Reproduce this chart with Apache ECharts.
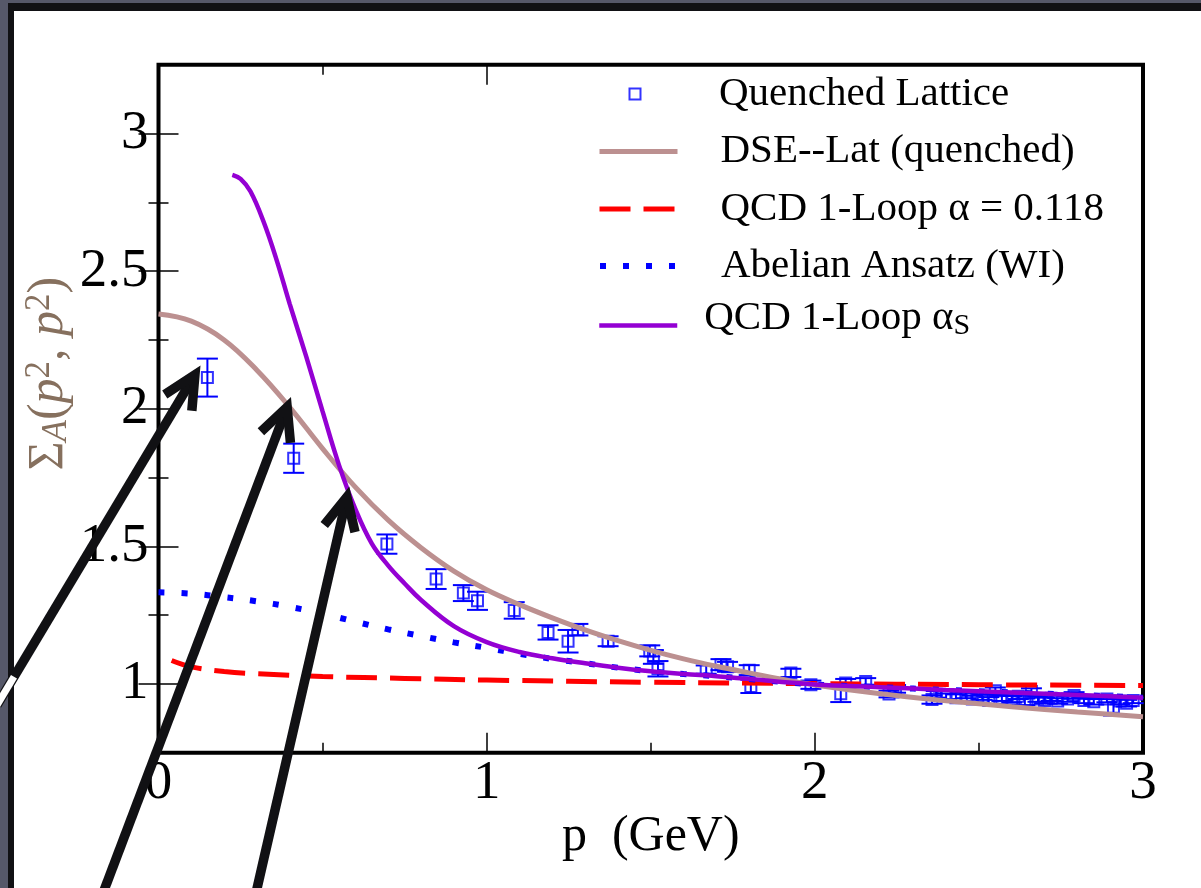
<!DOCTYPE html>
<html>
<head>
<meta charset="utf-8">
<script src="https://cdn.jsdelivr.net/npm/echarts@6/dist/echarts.min.js"></script>
<style>
  html, body { margin: 0; padding: 0; width: 1201px; height: 888px; overflow: hidden; background: #565869; }
  #band  { position: absolute; left: 8px; top: 3px; right: 0; bottom: 0; background: #111114; }
  #panel { position: absolute; left: 14px; top: 11px; right: 0; bottom: 0; background: #ffffff; }
  #chart { position: absolute; left: 0; top: 0; width: 1201px; height: 888px; }
</style>
</head>
<body>
<div id="band"></div>
<div id="panel"></div>
<div id="chart"></div>
<script>
// ---- axis ticks ----
const xTicks = [0, 1, 2, 3];
const xMinorTicks = [0.5, 1.5, 2.5];
const yTicks = [1, 1.5, 2, 2.5, 3];
const yMinorTicks = [1.25, 1.75, 2.25, 2.75];
const topTicks = [1];
const topMinorTicks = [0.5];

// ---- quenched lattice points: p (GeV), Sigma_A, error ----
const latticeP = [0.149, 0.412, 0.696, 0.846, 0.929, 0.972, 1.084, 1.187, 1.248, 1.278,
  1.370, 1.497, 1.508, 1.522, 1.669, 1.714, 1.734, 1.800, 1.805, 1.927,
  1.988, 2.079, 2.094, 2.155, 2.226, 2.246, 2.357, 2.370, 2.400, 2.430,
  2.460, 2.480, 2.510, 2.530, 2.550, 2.570, 2.600, 2.620, 2.640, 2.660,
  2.680, 2.700, 2.720, 2.740, 2.770, 2.790, 2.820, 2.850, 2.890, 2.910,
  2.930, 2.950, 2.970];
const latticeS = [2.113, 1.820, 1.508, 1.381, 1.330, 1.302, 1.267, 1.187, 1.155, 1.197,
  1.155, 1.120, 1.098, 1.055, 1.052, 1.070, 1.062, 1.050, 0.991, 1.040,
  0.997, 0.964, 1.003, 1.009, 0.963, 0.982, 0.943, 0.962, 0.955, 0.950,
  0.958, 0.945, 0.952, 0.940, 0.975, 0.948, 0.944, 0.955, 0.935, 0.972,
  0.945, 0.940, 0.948, 0.938, 0.945, 0.958, 0.940, 0.935, 0.945, 0.915,
  0.938, 0.930, 0.940];
const latticeErr = [0.069, 0.053, 0.035, 0.036, 0.029, 0.033, 0.030, 0.026, 0.041, 0.021,
  0.018, 0.020, 0.025, 0.028, 0.015, 0.020, 0.018, 0.018, 0.024, 0.015,
  0.015, 0.030, 0.015, 0.012, 0.012, 0.014, 0.015, 0.012, 0.010, 0.012,
  0.010, 0.012, 0.010, 0.012, 0.012, 0.010, 0.012, 0.010, 0.012, 0.012,
  0.010, 0.010, 0.010, 0.010, 0.010, 0.012, 0.010, 0.010, 0.012, 0.030,
  0.012, 0.012, 0.010];

// ---- DSE--Lat (quenched) ----
const dseP = [0, 0.1, 0.2, 0.3, 0.4, 0.5, 0.6, 0.7, 0.8, 0.9, 1.0, 1.1, 1.2, 1.3, 1.4,
  1.5, 1.6, 1.7, 1.8, 1.9, 2.0, 2.2, 2.4, 2.6, 2.8, 3.0];
const dseS = [2.344, 2.318, 2.25, 2.14, 2.005, 1.855, 1.715, 1.595, 1.495, 1.41, 1.342, 1.288, 1.24, 1.196, 1.157,
  1.122, 1.091, 1.064, 1.04, 1.017, 0.996, 0.964, 0.939, 0.917, 0.898, 0.881];

// ---- QCD 1-loop, fixed alpha = 0.118 ----
const qcdFixedP = [0.04, 0.1, 0.2, 0.3, 0.5, 0.75, 1.0, 1.5, 2.0, 2.5, 3.0];
const qcdFixedS = [1.085, 1.062, 1.045, 1.037, 1.027, 1.020, 1.014, 1.006, 1.001, 0.997, 0.994];

// ---- Abelian Ansatz (WI) ----
const abelianP = [0, 0.1, 0.2, 0.3, 0.4, 0.5, 0.6, 0.7, 0.8, 0.9, 1.0, 1.1, 1.2, 1.3, 1.4,
  1.5, 1.6, 1.7, 1.8, 1.9, 2.0, 2.2, 2.4, 2.6, 2.8, 3.0];
const abelianS = [1.333, 1.328, 1.315, 1.300, 1.280, 1.255, 1.226, 1.198, 1.174, 1.151, 1.131, 1.109, 1.091, 1.075, 1.059,
  1.046, 1.036, 1.028, 1.018, 1.007, 0.998, 0.988, 0.978, 0.969, 0.960, 0.950];

// ---- QCD 1-loop, running alpha_S ----
const qcdRunP = [0.225, 0.25, 0.28, 0.32, 0.36, 0.40, 0.45, 0.50, 0.55, 0.60, 0.65, 0.70, 0.75, 0.8, 0.9,
  1.0, 1.1, 1.2, 1.3, 1.4, 1.5, 1.6, 1.7, 1.8, 1.9, 2.0, 2.2, 2.4, 2.6, 2.8, 3.0];
const qcdRunS = [2.85, 2.835, 2.79, 2.68, 2.54, 2.38, 2.19, 1.99, 1.795, 1.635, 1.51, 1.43, 1.365, 1.305, 1.21,
  1.152, 1.116, 1.093, 1.075, 1.059, 1.046, 1.036, 1.028, 1.018, 1.007, 0.998, 0.988, 0.978, 0.969, 0.960, 0.950];

// ---- annotation arrows (tip and tail, in axis units) ----
const arrowTipP  = [0.111, 0.392, 0.574];
const arrowTipS  = [2.123, 2.006, 1.679];
const arrowTailP = [-0.492, -0.169, 0.297];
const arrowTailS = [0.923, 0.240, 0.240];

const SERIF = '"Liberation Serif", "DejaVu Serif", serif';
const PANEL_LEFT = 14;

const chart = echarts.init(document.getElementById('chart'));

function pairs(xs, ys) { return xs.map((x, i) => [x, ys[i]]); }

function legendRow(name, top, padLeft, extra) {
  return Object.assign({
    data: [name],
    left: 597,
    top: top,
    padding: 0,
    itemWidth: 78,
    itemHeight: 11,
    selectedMode: false,
    lineStyle: { width: 'inherit' },
    itemStyle: { opacity: 0 },
    textStyle: { fontFamily: SERIF, fontSize: 41, color: '#000', lineHeight: 46, padding: [0, 0, 15, padLeft] }
  }, extra || {});
}

const tickStyle = { color: '#000', width: 1.5 };

function tickAxis(kind, position, values, len) {
  return {
    type: 'value', position: position,
    min: kind === 'x' ? 0 : 0.75, max: kind === 'x' ? 3 : 3.25,
    axisLine: { show: false },
    axisLabel: { show: false },
    splitLine: { show: false },
    axisTick: { show: true, inside: true, length: len, customValues: values, lineStyle: tickStyle }
  };
}

const bottomAxis = tickAxis('x', 'bottom', xTicks, 20);
bottomAxis.axisLabel = { show: true, customValues: xTicks, margin: 3, fontFamily: SERIF, fontSize: 55, lineHeight: 55, color: '#000' };
bottomAxis.name = 'p  (GeV)';
bottomAxis.nameLocation = 'middle';
bottomAxis.nameGap = 59;
bottomAxis.nameMoveOverlap = false;
bottomAxis.nameTextStyle = { fontFamily: SERIF, fontSize: 50, lineHeight: 50, color: '#000' };

const leftAxis = tickAxis('y', 'left', yTicks, 20);
leftAxis.axisLabel = { show: true, customValues: yTicks, margin: 10, fontFamily: SERIF, fontSize: 55, lineHeight: 55, color: '#000' };
leftAxis.name = '{s|Σ}{sub|A}{s|(}{i|p}{sup|2}{s|, }{i|p}{sup|2}{s|)}';
leftAxis.nameLocation = 'middle';
leftAxis.nameGap = 84;
leftAxis.nameMoveOverlap = false;
const labelColor = '#86705e';
leftAxis.nameTextStyle = {
  color: labelColor, fontFamily: SERIF, fontSize: 50, lineHeight: 52, padding: [0, 0, 0, 70],
  rich: {
    s:   { fontFamily: SERIF, fontSize: 50, lineHeight: 52, color: labelColor },
    i:   { fontFamily: SERIF, fontStyle: 'italic', fontSize: 50, lineHeight: 52, color: labelColor },
    sub: { fontFamily: SERIF, fontStyle: 'italic', fontSize: 35, lineHeight: 20, verticalAlign: 'bottom', color: labelColor },
    sup: { fontFamily: SERIF, fontSize: 35, lineHeight: 22, verticalAlign: 'top', color: labelColor }
  }
};

const option = {
  animation: false,
  grid: {
    left: 158.5, right: 58, top: 64.7, bottom: 135.3,
    show: true, borderColor: '#000', borderWidth: 4, backgroundColor: 'transparent',
    outerBoundsMode: 'none'
  },
  xAxis: [
    bottomAxis,
    tickAxis('x', 'bottom', xMinorTicks, 10),
    tickAxis('x', 'top', topTicks, 20),
    tickAxis('x', 'top', topMinorTicks, 10)
  ],
  yAxis: [
    leftAxis,
    tickAxis('y', 'left', yMinorTicks, 10),
    tickAxis('y', 'right', yTicks, 20),
    tickAxis('y', 'right', yMinorTicks, 10)
  ],
  legend: [
    legendRow('Quenched Lattice', 59, 71.5, {
      left: 628.5, itemWidth: 11,
      itemStyle: { borderWidth: 2, color: 'rgba(0,0,0,0)', borderColor: '#0000ff' },
      textStyle: { fontFamily: SERIF, fontSize: 41, color: '#000', lineHeight: 46, padding: [0, 0, 24, 73.5] }
    }),
    legendRow('DSE--Lat (quenched)', 121, 38),
    legendRow('QCD 1-Loop α = 0.118', 178.5, 38),
    legendRow('Abelian Ansatz (WI)', 235.5, 38),
    legendRow('QCD 1-Loop αS', 295, 24, {
      formatter: () => '{n|QCD 1-Loop α}{s|S}',
      textStyle: {
        fontFamily: SERIF, fontSize: 41, color: '#000', lineHeight: 46, padding: [0, 0, 15, 22],
        rich: {
          n: { fontFamily: SERIF, fontSize: 41, lineHeight: 46, color: '#000' },
          s: { fontFamily: SERIF, fontSize: 30, lineHeight: 14, verticalAlign: 'bottom', color: '#000' }
        }
      }
    })
  ],
  series: [
    {
      name: 'lattice errors',
      type: 'custom',
      z: 2,
      silent: true,
      data: latticeP.map((p, i) => [p, latticeS[i], latticeErr[i]]),
      renderItem: function (params, api) {
        const x = api.value(0), y = api.value(1), e = api.value(2);
        const hi = api.coord([x, y + e]);
        const lo = api.coord([x, y - e]);
        const w = 10.5;
        const st = { stroke: '#0000ff', lineWidth: 2, fill: null };
        return {
          type: 'group',
          children: [
            { type: 'line', shape: { x1: hi[0], y1: hi[1], x2: lo[0], y2: lo[1] }, style: st },
            { type: 'line', shape: { x1: hi[0] - w, y1: hi[1], x2: hi[0] + w, y2: hi[1] }, style: st },
            { type: 'line', shape: { x1: lo[0] - w, y1: lo[1], x2: lo[0] + w, y2: lo[1] }, style: st }
          ]
        };
      }
    },
    {
      name: 'Quenched Lattice',
      type: 'scatter',
      z: 2,
      symbol: 'rect',
      symbolSize: 11,
      itemStyle: { color: 'rgba(0,0,0,0)', borderColor: '#0000ff', borderWidth: 2 },
      data: pairs(latticeP, latticeS)
    },
    {
      name: 'QCD 1-Loop α = 0.118',
      type: 'line', z: 3, symbol: 'none', smooth: 0.4,
      lineStyle: { color: '#ff0000', width: 5, type: [31, 13], cap: 'butt' },
      itemStyle: { color: '#ff0000' },
      data: pairs(qcdFixedP, qcdFixedS)
    },
    {
      name: 'Abelian Ansatz (WI)',
      type: 'line', z: 3, symbol: 'none', smooth: 0.4,
      lineStyle: { color: '#0000ff', width: 6, type: [6, 17], cap: 'butt' },
      itemStyle: { color: '#0000ff' },
      data: pairs(abelianP, abelianS)
    },
    {
      name: 'DSE--Lat (quenched)',
      type: 'line', z: 4, symbol: 'none', smooth: 0.4,
      lineStyle: { color: '#bc9090', width: 5 },
      itemStyle: { color: '#bc9090' },
      data: pairs(dseP, dseS)
    },
    {
      name: 'QCD 1-Loop αS',
      type: 'line', z: 5, symbol: 'none', smooth: 0.4,
      lineStyle: { color: '#9400d3', width: 4.5 },
      itemStyle: { color: '#9400d3' },
      data: pairs(qcdRunP, qcdRunS)
    },
    {
      name: 'arrows',
      type: 'custom',
      z: 10,
      silent: true,
      clip: false,
      data: arrowTipP.map((p, i) => [p, arrowTipS[i], arrowTailP[i], arrowTailS[i]]),
      renderItem: function (params, api) {
        const tip = api.coord([api.value(0), api.value(1)]);
        const tail = api.coord([api.value(2), api.value(3)]);
        const dx = tail[0] - tip[0], dy = tail[1] - tip[1];
        const len = Math.hypot(dx, dy);
        const ux = dx / len, uy = dy / len;
        const armLen = 36, ang = 26 * Math.PI / 180;
        const rot = (a) => [ux * Math.cos(a) - uy * Math.sin(a), ux * Math.sin(a) + uy * Math.cos(a)];
        const r1 = rot(ang), r2 = rot(-ang);
        const black = { stroke: '#111114', lineWidth: 9.5, fill: null, lineCap: 'butt', lineJoin: 'miter' };
        const children = [
          { type: 'line', shape: { x1: tail[0], y1: tail[1], x2: tip[0] + ux * 3, y2: tip[1] + uy * 3 }, style: black },
          { type: 'polyline', shape: { points: [
            [tip[0] + r1[0] * armLen, tip[1] + r1[1] * armLen],
            [tip[0], tip[1]],
            [tip[0] + r2[0] * armLen, tip[1] + r2[1] * armLen]
          ] }, style: black }
        ];
        if (tail[0] < PANEL_LEFT) {
          const t = (PANEL_LEFT - tip[0]) / (tail[0] - tip[0]);
          const cx = tip[0] + t * dx, cy = tip[1] + t * dy;
          children.push({ type: 'line', shape: { x1: cx, y1: cy, x2: tail[0], y2: tail[1] },
            style: { stroke: '#ffffff', lineWidth: 7, fill: null, lineCap: 'butt' } });
        }
        return { type: 'group', children: children };
      }
    }
  ]
};

chart.setOption(option);
</script>
</body>
</html>
